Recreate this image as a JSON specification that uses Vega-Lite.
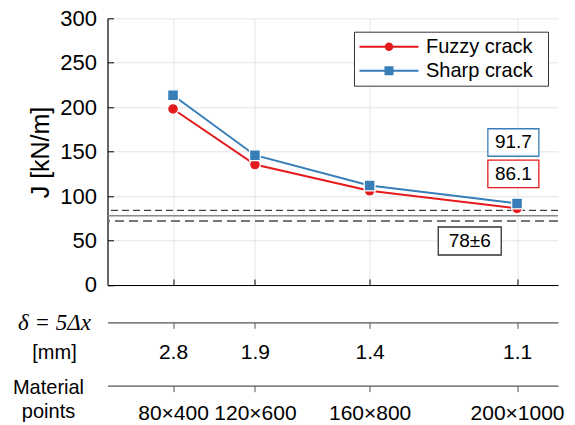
{
  "$schema": "https://vega.github.io/schema/vega-lite/v6.json",
  "width": 450.5,
  "height": 266.7,
  "autosize": {"type": "none"},
  "padding": {"left": 107.5, "top": 18.3, "right": 17, "bottom": 139.7},
  "background": "white",
  "config": {"font": "Liberation Sans", "view": {"stroke": null}},
  "datasets": {
    "series": [
      {"points": 32000, "J": 198, "series": "Fuzzy crack"},
      {"points": 72000, "J": 135.5, "series": "Fuzzy crack"},
      {"points": 128000, "J": 106, "series": "Fuzzy crack"},
      {"points": 200000, "J": 86.1, "series": "Fuzzy crack"},
      {"points": 32000, "J": 213.5, "series": "Sharp crack"},
      {"points": 72000, "J": 146, "series": "Sharp crack"},
      {"points": 128000, "J": 112, "series": "Sharp crack"},
      {"points": 200000, "J": 91.7, "series": "Sharp crack"}
    ],
    "grid": [
      {"points": 32000, "delta": "2.8", "mp": "80×400"},
      {"points": 72000, "delta": "1.9", "mp": "120×600"},
      {"points": 128000, "delta": "1.4", "mp": "160×800"},
      {"points": 200000, "delta": "1.1", "mp": "200×1000"}
    ]
  },
  "resolve": {"axis": {"x": "independent", "y": "independent"}},
  "layer": [
    {
      "data": {"values": [{"J": 84}]},
      "mark": {"type": "rule", "color": "#111111", "strokeWidth": 1, "strokeDash": [7, 4]},
      "encoding": {"y": {"field": "J", "type": "quantitative", "scale": {"domain": [0, 300], "nice": false}, "axis": null}}
    },
    {
      "data": {"values": [{"J": 78}]},
      "mark": {"type": "rule", "color": "#888888", "strokeWidth": 1.5},
      "encoding": {"y": {"field": "J", "type": "quantitative", "scale": {"domain": [0, 300], "nice": false}, "axis": null}}
    },
    {
      "data": {"values": [{"J": 72}]},
      "mark": {"type": "rule", "color": "#777777", "strokeWidth": 2, "strokeDash": [9, 5]},
      "encoding": {"y": {"field": "J", "type": "quantitative", "scale": {"domain": [0, 300], "nice": false}, "axis": null}}
    },
    {
      "data": {"name": "series"},
      "transform": [{"filter": "datum.series === 'Fuzzy crack'"}],
      "mark": {"type": "line", "strokeWidth": 2, "color": "#e41a1c"},
      "encoding": {
        "x": {
          "field": "points", "type": "quantitative",
          "scale": {"domain": [0, 220000], "nice": false, "zero": false},
          "axis": {
            "orient": "bottom", "title": null, "labels": false,
            "values": [32000, 72000, 128000, 200000],
            "grid": true, "gridColor": "#e4e4e4", "gridWidth": 1,
            "tickSize": -6, "tickColor": "black", "domainColor": "black", "domainWidth": 1.2
          }
        },
        "y": {
          "field": "J", "type": "quantitative",
          "scale": {"domain": [0, 300], "nice": false},
          "axis": {
            "orient": "left",
            "values": [0, 50, 100, 150, 200, 250, 300],
            "grid": true, "gridColor": "#e4e4e4", "gridWidth": 1,
            "tickSize": -6, "tickColor": "black", "domainColor": "black", "domainWidth": 1.2,
            "labelFontSize": 22, "labelPadding": 17, "labelColor": "black",
            "title": "J [kN/m]", "titleFontSize": 25, "titleFontWeight": "normal", "titleColor": "black",
            "titleAngle": -90, "titleX": -67.5, "titleY": 133.7, "titleAlign": "center", "titleBaseline": "middle"
          }
        }
      }
    },
    {
      "data": {"name": "series"},
      "transform": [{"filter": "datum.series === 'Sharp crack'"}],
      "mark": {"type": "line", "strokeWidth": 2, "color": "#377eb8"},
      "encoding": {
        "x": {"field": "points", "type": "quantitative", "scale": {"domain": [0, 220000], "nice": false, "zero": false}, "axis": null},
        "y": {"field": "J", "type": "quantitative", "scale": {"domain": [0, 300], "nice": false}, "axis": null}
      }
    },
    {
      "data": {"name": "series"},
      "transform": [{"filter": "datum.series === 'Fuzzy crack'"}],
      "mark": {"type": "point", "shape": "circle", "filled": true, "size": 115, "color": "#e41a1c", "stroke": "white", "strokeWidth": 1.2, "opacity": 1},
      "encoding": {
        "x": {"field": "points", "type": "quantitative", "scale": {"domain": [0, 220000], "nice": false, "zero": false}, "axis": null},
        "y": {"field": "J", "type": "quantitative", "scale": {"domain": [0, 300], "nice": false}, "axis": null}
      }
    },
    {
      "data": {"name": "series"},
      "transform": [{"filter": "datum.series === 'Sharp crack'"}],
      "mark": {"type": "point", "shape": "square", "filled": true, "size": 115, "color": "#377eb8", "stroke": "white", "strokeWidth": 1.2, "opacity": 1},
      "encoding": {
        "x": {"field": "points", "type": "quantitative", "scale": {"domain": [0, 220000], "nice": false, "zero": false}, "axis": null},
        "y": {"field": "J", "type": "quantitative", "scale": {"domain": [0, 300], "nice": false}, "axis": null}
      }
    },
    {
      "data": {"name": "series"},
      "transform": [{"filter": "false"}],
      "mark": {"type": "point", "filled": true, "opacity": 1},
      "encoding": {
        "color": {
          "field": "series", "type": "nominal",
          "scale": {"domain": ["Fuzzy crack", "Sharp crack"], "range": ["#e41a1c", "#377eb8"]},
          "legend": {
            "orient": "none", "legendX": 246.5, "legendY": 13.4, "title": ".", "titleOrient": "right",
            "titleColor": "white", "titleFontSize": 6, "titlePadding": 8,
            "labelFontSize": 20, "labelFont": "Liberation Sans", "labelColor": "black",
            "fillColor": "white", "strokeColor": "#333333", "padding": 5,
            "rowPadding": 4, "symbolOffset": 20, "labelOffset": 27,
            "symbolSize": 100, "symbolStrokeWidth": 2, "symbolOpacity": 1
          }
        },
        "shape": {
          "field": "series", "type": "nominal",
          "scale": {"domain": ["Fuzzy crack", "Sharp crack"], "range": [
            "M-5.9,-0.2H5.9V0.2H-5.9Z M-0.85,0A0.85,0.85 0 1,1 0.85,0A0.85,0.85 0 1,1 -0.85,0Z",
            "M-5.9,-0.2H5.9V0.2H-5.9Z M-0.9,-0.9H0.9V0.9H-0.9Z"
          ]},
          "legend": {
            "orient": "none", "legendX": 246.5, "legendY": 13.4, "title": ".", "titleOrient": "right",
            "titleColor": "white", "titleFontSize": 6, "titlePadding": 8,
            "labelFontSize": 20, "labelFont": "Liberation Sans", "labelColor": "black",
            "fillColor": "white", "strokeColor": "#333333", "padding": 5,
            "rowPadding": 4, "symbolOffset": 20, "labelOffset": 27,
            "symbolSize": 100, "symbolStrokeWidth": 2, "symbolOpacity": 1
          }
        }
      }
    },
    {
      "data": {"values": [{"points": 198200, "J": 160.3, "label": "91.7"}]},
      "layer": [
        {
          "mark": {"type": "point", "shape": "M-2.55,-1.375H2.55V1.375H-2.55Z", "size": 400, "filled": true, "fill": "white", "stroke": "#377eb8", "strokeWidth": 1.3, "opacity": 1},
          "encoding": {
            "x": {"field": "points", "type": "quantitative", "scale": {"domain": [0, 220000], "nice": false, "zero": false}, "axis": null},
            "y": {"field": "J", "type": "quantitative", "scale": {"domain": [0, 300], "nice": false}, "axis": null}
          }
        },
        {
          "mark": {"type": "text", "fontSize": 19, "font": "Liberation Sans", "color": "black", "baseline": "middle", "align": "center"},
          "encoding": {
            "x": {"field": "points", "type": "quantitative", "scale": {"domain": [0, 220000], "nice": false, "zero": false}, "axis": null},
            "y": {"field": "J", "type": "quantitative", "scale": {"domain": [0, 300], "nice": false}, "axis": null},
            "text": {"field": "label"}
          }
        }
      ]
    },
    {
      "data": {"values": [{"points": 198200, "J": 125.1, "label": "86.1"}]},
      "layer": [
        {
          "mark": {"type": "point", "shape": "M-2.55,-1.375H2.55V1.375H-2.55Z", "size": 400, "filled": true, "fill": "white", "stroke": "#e41a1c", "strokeWidth": 1.3, "opacity": 1},
          "encoding": {
            "x": {"field": "points", "type": "quantitative", "scale": {"domain": [0, 220000], "nice": false, "zero": false}, "axis": null},
            "y": {"field": "J", "type": "quantitative", "scale": {"domain": [0, 300], "nice": false}, "axis": null}
          }
        },
        {
          "mark": {"type": "text", "fontSize": 19, "font": "Liberation Sans", "color": "black", "baseline": "middle", "align": "center"},
          "encoding": {
            "x": {"field": "points", "type": "quantitative", "scale": {"domain": [0, 220000], "nice": false, "zero": false}, "axis": null},
            "y": {"field": "J", "type": "quantitative", "scale": {"domain": [0, 300], "nice": false}, "axis": null},
            "text": {"field": "label"}
          }
        }
      ]
    },
    {
      "data": {"values": [{"points": 176900, "J": 49.5, "label": "78±6"}]},
      "layer": [
        {
          "mark": {"type": "point", "shape": "M-3.15,-1.4H3.15V1.4H-3.15Z", "size": 400, "filled": true, "fill": "white", "stroke": "#333333", "strokeWidth": 1.3, "opacity": 1},
          "encoding": {
            "x": {"field": "points", "type": "quantitative", "scale": {"domain": [0, 220000], "nice": false, "zero": false}, "axis": null},
            "y": {"field": "J", "type": "quantitative", "scale": {"domain": [0, 300], "nice": false}, "axis": null}
          }
        },
        {
          "mark": {"type": "text", "fontSize": 19, "font": "Liberation Sans", "color": "black", "baseline": "middle", "align": "center"},
          "encoding": {
            "x": {"field": "points", "type": "quantitative", "scale": {"domain": [0, 220000], "nice": false, "zero": false}, "axis": null},
            "y": {"field": "J", "type": "quantitative", "scale": {"domain": [0, 300], "nice": false}, "axis": null},
            "text": {"field": "label"}
          }
        }
      ]
    },
    {
      "data": {"name": "grid"},
      "mark": {"type": "point", "opacity": 0},
      "encoding": {
        "x": {
          "field": "points", "type": "quantitative",
          "scale": {"domain": [0, 220000], "nice": false, "zero": false},
          "axis": {
            "orient": "bottom", "offset": 37.3, "values": [32000, 72000, 128000, 200000],
            "labelExpr": "datum.value == 32000 ? '2.8' : datum.value == 72000 ? '1.9' : datum.value == 128000 ? '1.4' : '1.1'",
            "grid": false, "domainColor": "#555555", "tickColor": "#555555", "tickSize": 6, "domainWidth": 1.2,
            "labelFontSize": 21, "labelColor": "black", "labelPadding": 24, "labelBaseline": "middle", "labelOverlap": false, "labelFlush": false,
            "title": "δ = 5Δx", "titleFont": "Liberation Serif", "titleFontStyle": "italic", "titleFontWeight": "normal",
            "titleFontSize": 23, "titleColor": "black", "titleAngle": 0, "titleX": -53.5, "titleY": 0,
            "titleAlign": "center", "titleBaseline": "middle"
          }
        }
      }
    },
    {
      "data": {"name": "grid"},
      "mark": {"type": "point", "opacity": 0},
      "encoding": {
        "x": {
          "field": "points", "type": "quantitative",
          "scale": {"domain": [0, 220000], "nice": false, "zero": false},
          "axis": {
            "orient": "bottom", "offset": 37.3, "domain": false, "ticks": false, "labels": false, "grid": false,
            "title": "[mm]", "titleFontSize": 20, "titleFontWeight": "normal", "titleColor": "black",
            "titleAngle": 0, "titleX": -53.5, "titleY": 30, "titleAlign": "center", "titleBaseline": "middle"
          }
        }
      }
    },
    {
      "data": {"name": "grid"},
      "mark": {"type": "point", "opacity": 0},
      "encoding": {
        "x": {
          "field": "points", "type": "quantitative",
          "scale": {"domain": [0, 220000], "nice": false, "zero": false},
          "axis": {
            "orient": "bottom", "offset": 100.7, "values": [32000, 72000, 128000, 200000],
            "labelExpr": "datum.value == 32000 ? '80×400' : datum.value == 72000 ? '120×600' : datum.value == 128000 ? '160×800' : '200×1000'",
            "grid": false, "domainColor": "#555555", "tickColor": "#555555", "tickSize": 6, "domainWidth": 1.2,
            "labelFontSize": 21, "labelColor": "black", "labelPadding": 22, "labelBaseline": "middle", "labelOverlap": false, "labelFlush": false,
            "title": ["Material", "points"], "titleFontSize": 20, "titleFontWeight": "normal", "titleColor": "black",
            "titleLineHeight": 24, "titleAngle": 0, "titleX": -59.5, "titleY": 2.3,
            "titleAlign": "center", "titleBaseline": "middle"
          }
        }
      }
    }
  ]
}
